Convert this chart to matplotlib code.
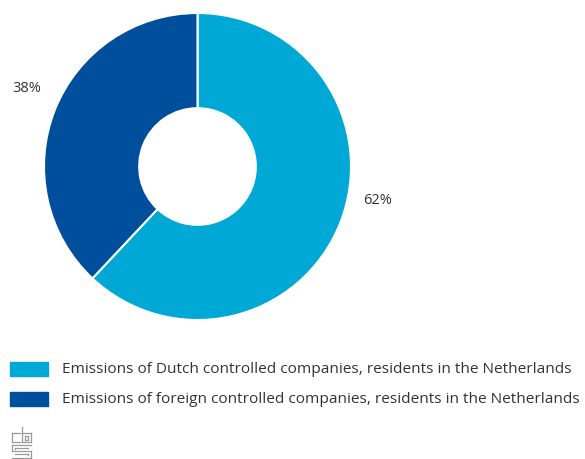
import matplotlib
matplotlib.use("Agg")
import matplotlib.pyplot as plt
from matplotlib.patches import Rectangle
from matplotlib.lines import Line2D

# share of emissions by company control
labels = ["Emissions of Dutch controlled companies, residents in the Netherlands",
          "Emissions of foreign controlled companies, residents in the Netherlands"]
shares = [62, 38]
colors = ["#00A8D6", "#004F9C"]

W, H = 585, 460
fig = plt.figure(figsize=(W / 100, H / 100), dpi=100)
plt.rcParams['font.family'] = ['Open Sans', 'DejaVu Sans']

# donut
cx, cy, r = 197.5, 167.5, 153.5
ax = fig.add_axes([(cx - r) / W, 1 - (cy + r) / H, 2 * r / W, 2 * r / H])
wedges, _ = ax.pie(shares, colors=colors, startangle=90, counterclock=False,
                   radius=1, wedgeprops=dict(width=0.62, edgecolor="white", linewidth=1.5))
ax.set_xlim(-1, 1)
ax.set_ylim(-1, 1)
ax.set_aspect("equal")
ax.axis("off")

label_pos = [(1.17, -0.216), (-1.11, 0.516)]
for (x, y), v in zip(label_pos, shares):
    ax.text(x, y, f"{v}%", ha="center", va="center", fontsize=10.5, color="#333333",
            clip_on=False)

# legend
for i, (lab, col) in enumerate(zip(labels, colors)):
    top = 363 + i * 30
    fig.patches.append(Rectangle((10 / W, 1 - (top + 14) / H), 38 / W, 14 / H,
                                 transform=fig.transFigure, color=col))
    fig.text(62 / W, 1 - (top + 7) / H, lab, ha="left", va="center",
             fontsize=11.1, color="#333333")

# small cbs mark
def seg(x0, y0, x1, y1):
    fig.lines.append(Line2D([x0 / W, x1 / W], [1 - y0 / H, 1 - y1 / H],
                            transform=fig.transFigure, color="#9a9a9a", lw=0.9))

# c
seg(12, 434, 20, 434); seg(12, 434, 12, 443); seg(12, 443, 20, 443)
# b
seg(22, 428, 22, 443); seg(22, 443, 31, 443); seg(31, 443, 31, 434); seg(31, 434, 22, 434)
seg(25, 437, 28, 437); seg(25, 437, 25, 441); seg(25, 441, 28, 441); seg(28, 441, 28, 437)
# s
seg(31, 446, 12, 446); seg(12, 446, 12, 452); seg(12, 452, 31, 452)
seg(31, 452, 31, 459); seg(31, 459, 12, 459)
seg(28, 449, 15, 449); seg(15, 449, 15, 450); seg(15, 455, 28, 455); seg(28, 455, 28, 456)

fig.savefig("out.png", dpi=100)
